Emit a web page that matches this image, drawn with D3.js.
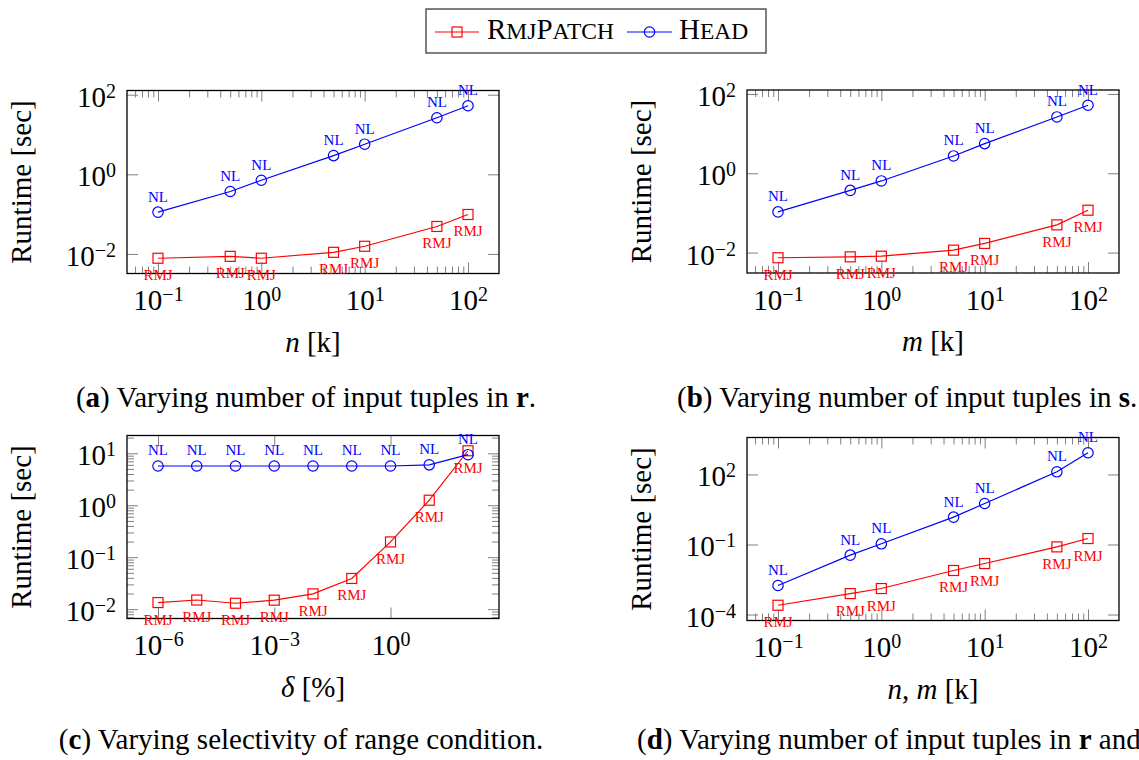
<!DOCTYPE html>
<html>
<head>
<meta charset="utf-8">
<script src="https://cdn.jsdelivr.net/npm/d3@7"></script>
<style>
  body { margin: 0; background: #fff; }
  svg text { font-family: "Liberation Serif", "Times New Roman", serif; }
</style>
</head>
<body>
<div id="chart"></div>
<script>
// number of input tuples in thousands (panels a, b, d)
const tupleCounts = [0.1, 0.5, 1, 5, 10, 50, 100]
// selectivity of the range condition in % (panel c)
const selectivities = [1e-6, 1e-5, 1e-4, 1e-3, 1e-2, 1e-1, 1, 10, 100]

// runtimes in seconds
const rmjVaryR = [0.0078, 0.0087, 0.0078, 0.011, 0.0156, 0.049, 0.098]
const headVaryR = [0.112, 0.37, 0.71, 2.95, 5.7, 26.3, 52.7]
const rmjVaryS = [0.0074, 0.0078, 0.0081, 0.0115, 0.017, 0.05, 0.117]
const headVaryS = [0.106, 0.37, 0.64, 2.73, 5.6, 26.3, 51.9]
const rmjVarySel = [0.0134, 0.015, 0.013, 0.0149, 0.0197, 0.039, 0.197, 1.25, 11.2]
const headVarySel = [5.7, 5.7, 5.7, 5.7, 5.7, 5.7, 5.7, 6.0, 9.4]
const rmjVaryBoth = [0.00025, 0.00079, 0.0013, 0.0077, 0.0153, 0.079, 0.18]
const headVaryBoth = [0.00175, 0.035, 0.107, 1.48, 5.7, 130, 850]

// major tick exponents (10^e)
const tupleTicks = [-1, 0, 1, 2]
const selTicks = [-6, -3, 0]
const runtimeTicksAB = [-2, 0, 2]
const runtimeTicksC = [-2, -1, 0, 1]
const runtimeTicksD = [-4, -1, 2]

const seriesNames = ['RmjPatch', 'Head']
const pointLabels = ['RMJ', 'NL']

const RED = '#ff0000'
const BLUE = '#0000ff'
const W = 372, H = 183
const FONT = '"Liberation Serif", "Times New Roman", serif'

const svg = d3.select('#chart').append('svg')
  .attr('width', 1139)
  .attr('height', 760)
  .attr('font-family', FONT)

// capAnchor: 'middle' centres the caption on capX, 'start' starts it there
const panels = [
  { left: 127, top: 90.5, xs: tupleCounts, rmj: rmjVaryR, head: headVaryR, xTicks: tupleTicks, yTicks: runtimeTicksAB, titleX: 31,
    xLabel: [['n', true], [' [k]', false]],
    caption: [['(', false], ['a', true], [') Varying number of input tuples in ', false], ['r', true], ['.', false]],
    capX: 306, capY: 407, capAnchor: 'middle' },
  { left: 747, top: 90, xs: tupleCounts, rmj: rmjVaryS, head: headVaryS, xTicks: tupleTicks, yTicks: runtimeTicksAB, titleX: 651,
    xLabel: [['m', true], [' [k]', false]],
    caption: [['(', false], ['b', true], [') Varying number of input tuples in ', false], ['s', true], ['.', false]],
    capX: 677, capY: 407, capAnchor: 'start' },
  { left: 127, top: 435.5, xs: selectivities, rmj: rmjVarySel, head: headVarySel, xTicks: selTicks, yTicks: runtimeTicksC, titleX: 31,
    xLabel: [['δ', true], [' [%]', false]],
    caption: [['(', false], ['c', true], [') Varying selectivity of range condition.', false]],
    capX: 301, capY: 749, capAnchor: 'middle' },
  { left: 747, top: 437.5, xs: tupleCounts, rmj: rmjVaryBoth, head: headVaryBoth, xTicks: tupleTicks, yTicks: runtimeTicksD, titleX: 651,
    xLabel: [['n', true], [', ', false], ['m', true], [' [k]', false]],
    caption: [['(', false], ['d', true], [') Varying number of input tuples in ', false], ['r', true], [' and ', false], ['s', true], ['.', false]],
    capX: 637, capY: 749, capAnchor: 'start' }
]

// pgfplots-like limits: 10% padding in log space
function enlarge(values) {
  let lo = Math.log10(d3.min(values)), hi = Math.log10(d3.max(values))
  let pad = 0.1 * (hi - lo)
  return [Math.pow(10, lo - pad), Math.pow(10, hi + pad)]
}

// minor ticks only when the majors sit on every decade
function minorTicks(domain, majors) {
  if (majors[1] - majors[0] != 1) return []
  let out = []
  for (let k = Math.floor(Math.log10(domain[0])); k <= Math.ceil(Math.log10(domain[1])); k++) {
    for (let m = 2; m <= 9; m++) {
      let v = m * Math.pow(10, k)
      if (v > domain[0] && v < domain[1]) out.push(v)
    }
  }
  return out
}

function powerLabel(sel) {
  sel.each(function (d) {
    const t = d3.select(this)
    const e = Math.round(Math.log10(d))
    t.text('10')
    t.append('tspan')
      .attr('dy', -9)
      .attr('font-size', 20)
      .text(e < 0 ? '\u2212' + (-e) : String(e))
  })
}

function styleAxis(g) {
  g.attr('font-family', FONT).attr('font-size', null)
  g.select('.domain').remove()
  g.selectAll('.tick line').attr('stroke', '#808080').attr('stroke-width', 1)
}

function drawPanel(p) {
  const g = svg.append('g').attr('transform', `translate(${p.left},${p.top})`)

  const x = d3.scaleLog().domain(enlarge(p.xs)).range([0, W])
  const y = d3.scaleLog().domain(enlarge([...p.rmj, ...p.head])).range([H, 0])

  const xMajor = p.xTicks.map(e => Math.pow(10, e))
  const yMajor = p.yTicks.map(e => Math.pow(10, e))
  const xMinor = minorTicks(x.domain(), p.xTicks)
  const yMinor = minorTicks(y.domain(), p.yTicks)

  // minor ticks, all four sides, pointing inward
  g.append('g').attr('transform', `translate(0,${H})`)
    .call(d3.axisBottom(x).tickValues(xMinor).tickSize(-7).tickFormat('')).call(styleAxis)
  g.append('g')
    .call(d3.axisTop(x).tickValues(xMinor).tickSize(-7).tickFormat('')).call(styleAxis)
  g.append('g')
    .call(d3.axisLeft(y).tickValues(yMinor).tickSize(-7).tickFormat('')).call(styleAxis)
  g.append('g').attr('transform', `translate(${W},0)`)
    .call(d3.axisRight(y).tickValues(yMinor).tickSize(-7).tickFormat('')).call(styleAxis)

  // major ticks with labels
  const xb = g.append('g').attr('transform', `translate(0,${H})`)
    .call(d3.axisBottom(x).tickValues(xMajor).tickSize(-11)).call(styleAxis)
  xb.selectAll('.tick text')
    .attr('y', 36.5).attr('dy', null)
    .attr('font-size', 29).attr('fill', '#000')
    .call(powerLabel)
  g.append('g')
    .call(d3.axisTop(x).tickValues(xMajor).tickSize(-11).tickFormat('')).call(styleAxis)
  const yl = g.append('g')
    .call(d3.axisLeft(y).tickValues(yMajor).tickSize(-11)).call(styleAxis)
  yl.selectAll('.tick text')
    .attr('x', -11).attr('y', 11.5).attr('dy', null)
    .attr('font-size', 29).attr('fill', '#000')
    .call(powerLabel)
  g.append('g').attr('transform', `translate(${W},0)`)
    .call(d3.axisRight(y).tickValues(yMajor).tickSize(-11).tickFormat('')).call(styleAxis)

  g.append('rect')
    .attr('width', W).attr('height', H)
    .attr('fill', 'none').attr('stroke', '#000').attr('stroke-width', 1.3)

  const line = d3.line().x(d => x(d[0])).y(d => y(d[1]))

  // RmjPatch
  const rmjPts = p.xs.map((v, i) => [v, p.rmj[i]])
  g.append('path').datum(rmjPts)
    .attr('d', line).attr('fill', 'none').attr('stroke', RED).attr('stroke-width', 1.2)
  g.selectAll('.sq').data(rmjPts).join('rect')
    .attr('x', d => x(d[0]) - 5).attr('y', d => y(d[1]) - 5)
    .attr('width', 10).attr('height', 10)
    .attr('fill', 'none').attr('stroke', RED).attr('stroke-width', 1.2)
  g.selectAll('.rmjlab').data(rmjPts).join('text')
    .attr('x', d => x(d[0])).attr('y', d => y(d[1]) + 22)
    .attr('text-anchor', 'middle').attr('font-size', 15).attr('fill', RED)
    .text(pointLabels[0])

  // Head
  const headPts = p.xs.map((v, i) => [v, p.head[i]])
  g.append('path').datum(headPts)
    .attr('d', line).attr('fill', 'none').attr('stroke', BLUE).attr('stroke-width', 1.2)
  g.selectAll('.circ').data(headPts).join('circle')
    .attr('cx', d => x(d[0])).attr('cy', d => y(d[1])).attr('r', 5.2)
    .attr('fill', 'none').attr('stroke', BLUE).attr('stroke-width', 1.2)
  g.selectAll('.nllab').data(headPts).join('text')
    .attr('x', d => x(d[0])).attr('y', d => y(d[1]) - 10.5)
    .attr('text-anchor', 'middle').attr('font-size', 15).attr('fill', BLUE)
    .text(pointLabels[1])

  // axis titles
  g.append('text')
    .attr('transform', `translate(${p.titleX - p.left},${H / 2}) rotate(-90)`)
    .attr('text-anchor', 'middle').attr('font-size', 29)
    .text('Runtime [sec]')
  const xt = g.append('text')
    .attr('x', W / 2).attr('y', H + 78)
    .attr('text-anchor', 'middle').attr('font-size', 29)
  p.xLabel.forEach(([s, it]) => xt.append('tspan').attr('font-style', it ? 'italic' : null).text(s))

  // sub-caption
  const cap = svg.append('text')
    .attr('x', p.capX).attr('y', p.capY).attr('font-size', 29)
    .attr('text-anchor', p.capAnchor)
  p.caption.forEach(([s, b]) => cap.append('tspan').attr('font-weight', b ? 'bold' : null).text(s))
}

panels.forEach(drawPanel)

// shared legend
const legend = svg.append('g')
legend.append('rect')
  .attr('x', 426).attr('y', 9).attr('width', 340).attr('height', 44)
  .attr('fill', '#fff').attr('stroke', '#555').attr('stroke-width', 1.5)

// small caps by hand: capitals at full size, the rest smaller
function smallCaps(text, name) {
  for (let ch of name) {
    const up = ch === ch.toUpperCase()
    text.append('tspan').attr('font-size', up ? 29 : 23.5).text(ch.toUpperCase())
  }
}

legend.append('line').attr('x1', 435).attr('x2', 479).attr('y1', 32).attr('y2', 32)
  .attr('stroke', RED).attr('stroke-width', 1.2)
legend.append('rect').attr('x', 452).attr('y', 27).attr('width', 10).attr('height', 10)
  .attr('fill', 'none').attr('stroke', RED).attr('stroke-width', 1.2)
smallCaps(legend.append('text').attr('x', 487).attr('y', 38.5), seriesNames[0])

legend.append('line').attr('x1', 627).attr('x2', 672).attr('y1', 32).attr('y2', 32)
  .attr('stroke', BLUE).attr('stroke-width', 1.2)
legend.append('circle').attr('cx', 649.5).attr('cy', 32).attr('r', 5.2)
  .attr('fill', 'none').attr('stroke', BLUE).attr('stroke-width', 1.2)
smallCaps(legend.append('text').attr('x', 679).attr('y', 38.5), seriesNames[1])
</script>
</body>
</html>
